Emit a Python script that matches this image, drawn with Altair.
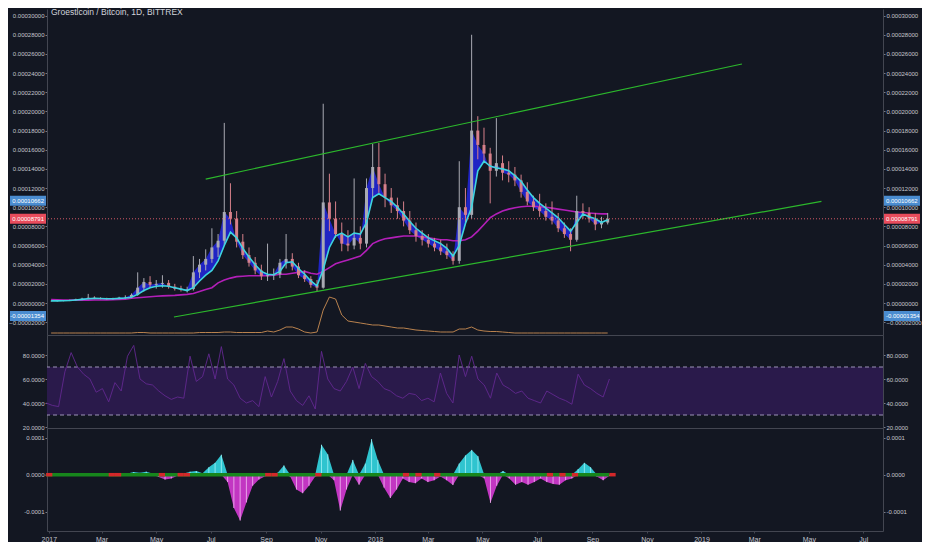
import pandas as pd
import altair as alt

# weekly samples (prices in units of 1e-5 BTC)
start = pd.Timestamp("2016-12-29")
weeks = pd.date_range(start, periods=91, freq="7D")

open_ = [0.20, 0.20, 0.22, 0.24, 0.30, 0.38, 0.45, 0.55, 0.50, 0.45,
         0.42, 0.45, 0.55, 0.60, 0.85, 1.60, 2.20, 1.90, 2.00, 2.10,
         1.70, 1.50, 1.40, 1.45, 3.20, 4.00, 4.60, 5.80, 6.50, 9.50,
         8.80, 6.40, 5.00, 4.20, 3.40, 2.80, 2.90, 3.00, 4.20, 4.60,
         3.80, 2.90, 2.50, 1.90, 1.60, 10.50, 8.80, 7.20, 6.20, 6.00,
         6.80, 6.20, 12.00, 14.20, 12.40, 11.00, 10.20, 9.60, 8.60, 7.60,
         7.00, 6.60, 6.20, 5.80, 5.40, 5.00, 4.40, 10.00, 9.20, 18.00,
         16.50, 15.60, 13.80, 14.60, 13.60, 13.40, 12.80, 11.60, 10.60, 10.00,
         9.60, 9.00, 8.60, 7.80, 7.20, 6.60, 9.60, 9.40, 8.80, 8.20,
         8.40]
close = [0.20, 0.22, 0.24, 0.30, 0.38, 0.45, 0.55, 0.50, 0.45, 0.42,
         0.45, 0.55, 0.60, 0.85, 1.60, 2.20, 1.90, 2.00, 2.10, 1.70,
         1.50, 1.40, 1.45, 3.20, 4.00, 4.60, 5.80, 6.50, 9.50, 8.80,
         6.40, 5.00, 4.20, 3.40, 2.80, 2.90, 3.00, 4.20, 4.60, 3.80,
         2.90, 2.50, 1.90, 1.60, 10.50, 8.80, 7.20, 6.20, 6.00, 6.80,
         6.20, 12.00, 14.20, 12.40, 11.00, 10.20, 9.60, 8.60, 7.60, 7.00,
         6.60, 6.20, 5.80, 5.40, 5.00, 4.40, 10.00, 9.20, 18.00, 16.50,
         15.60, 13.80, 14.60, 13.60, 13.40, 12.80, 11.60, 10.60, 10.00, 9.60,
         9.00, 8.60, 7.80, 7.20, 6.60, 9.60, 9.40, 8.80, 8.20, 8.40,
         8.79]
high = [0.25, 0.28, 0.30, 0.35, 0.45, 0.55, 0.95, 0.70, 0.60, 0.55,
        0.55, 0.65, 0.80, 1.00, 3.20, 2.60, 2.80, 2.40, 2.90, 2.40,
        2.00, 1.80, 1.70, 4.90, 4.60, 5.60, 7.80, 7.20, 18.80, 12.50,
        9.60, 7.20, 5.80, 4.80, 4.00, 6.20, 3.60, 4.60, 7.20, 5.20,
        4.20, 3.40, 2.80, 2.40, 20.80, 13.50, 10.60, 8.40, 7.60, 13.00,
        8.00, 13.00, 16.60, 16.70, 13.50, 12.00, 11.00, 10.60, 9.60, 8.40,
        7.60, 7.20, 6.80, 6.60, 6.20, 5.40, 14.80, 12.00, 28.00, 19.50,
        18.30, 16.20, 19.30, 15.40, 14.80, 14.20, 13.40, 12.60, 11.20, 11.40,
        10.40, 10.60, 9.40, 8.40, 7.80, 11.20, 10.40, 10.00, 9.40, 9.00,
        9.40]
low = [0.15, 0.16, 0.18, 0.20, 0.25, 0.30, 0.40, 0.40, 0.38, 0.35,
       0.35, 0.40, 0.45, 0.50, 0.75, 1.20, 1.60, 1.50, 1.60, 1.50,
       1.30, 1.20, 1.10, 1.30, 2.60, 3.40, 4.20, 4.80, 6.00, 8.20,
       5.80, 4.60, 3.80, 3.00, 2.40, 2.30, 2.40, 2.60, 3.60, 3.40,
       2.60, 2.20, 1.60, 1.25, 1.50, 7.50, 6.80, 5.40, 5.40, 5.60,
       5.60, 5.80, 11.00, 11.50, 10.00, 9.40, 8.80, 8.00, 7.20, 6.40,
       6.00, 5.80, 5.40, 5.00, 4.60, 4.00, 4.10, 8.40, 8.80, 15.00,
       14.60, 10.40, 13.20, 12.80, 12.60, 12.20, 11.00, 10.20, 9.60, 9.00,
       8.60, 8.20, 7.40, 6.80, 5.40, 6.40, 8.80, 8.40, 7.60, 7.80,
       8.20]
ema_fast = [0.22, 0.22, 0.23, 0.26, 0.32, 0.38, 0.45, 0.48, 0.47, 0.45,
            0.45, 0.48, 0.52, 0.60, 0.90, 1.30, 1.60, 1.75, 1.80, 1.75,
            1.60, 1.45, 1.30, 1.60, 2.30, 2.90, 3.40, 4.40, 6.00, 7.40,
            6.80, 5.70, 4.80, 4.00, 3.30, 3.00, 2.95, 3.30, 4.20, 4.30,
            3.60, 3.00, 2.30, 1.80, 3.50, 5.80, 7.00, 7.30, 6.90, 7.30,
            7.20, 8.40, 11.00, 11.40, 11.00, 10.60, 10.00, 9.30, 8.50, 7.80,
            7.30, 6.80, 6.50, 6.20, 5.70, 4.90, 6.00, 8.30, 10.00, 13.80,
            14.80, 14.30, 14.10, 14.00, 13.80, 13.30, 12.70, 11.80, 11.00, 10.40,
            9.90, 9.40, 8.90, 8.20, 7.50, 8.40, 9.30, 9.00, 8.80, 8.40,
            8.70]
ma_slow = [0.35, 0.33, 0.32, 0.31, 0.30, 0.30, 0.30, 0.31, 0.32, 0.33,
           0.35, 0.37, 0.40, 0.50, 0.55, 0.60, 0.65, 0.70, 0.74, 0.77,
           0.80, 0.85, 0.90, 1.00, 1.20, 1.40, 1.60, 2.10, 2.40, 2.60,
           2.75, 2.80, 2.85, 2.85, 2.85, 2.85, 2.90, 3.00, 3.00, 3.10,
           3.20, 3.30, 3.10, 3.00, 3.30, 3.70, 4.10, 4.30, 4.50, 4.70,
           4.90, 5.50, 6.20, 6.50, 6.70, 6.80, 6.90, 7.00, 7.00, 7.00,
           6.90, 6.80, 6.70, 6.60, 6.60, 6.50, 6.50, 6.60, 6.90, 7.50,
           8.20, 8.90, 9.30, 9.60, 9.80, 9.95, 10.05, 10.10, 10.10, 10.05,
           10.00, 9.90, 9.80, 9.70, 9.60, 9.50, 9.45, 9.40, 9.35, 9.30,
           9.30]
volume = [2, 2, 2, 2, 2, 2, 2, 2, 2, 2,
          2, 2, 2, 2, 2.5, 2.5, 2, 2, 2, 2,
          2, 2, 2, 2, 2.5, 2.5, 2.5, 2.5, 3, 3,
          2.5, 2.5, 2.5, 2.5, 2.5, 4, 3, 5, 8, 8,
          6, 3, 2, 3, 25, 38, 36, 20, 14, 13,
          12, 11, 10, 10, 9, 8, 7, 7, 6, 5,
          4.5, 4, 3.5, 3, 3, 3, 6, 6, 8, 5,
          4, 3.5, 3.5, 3, 2.5, 2, 2, 2, 2, 2,
          2, 2, 2, 2, 2, 2, 2, 2, 2, 2,
          2]
rsi = [40, 38, 37, 66, 82, 70, 64, 60, 49, 52,
       41, 57, 50, 79, 88, 60, 56, 55, 50, 46,
       43, 45, 44, 79, 58, 62, 81, 60, 87, 60,
       55, 44, 40, 42, 37, 62, 45, 58, 77, 50,
       42, 38, 46, 35, 83, 60, 52, 50, 58, 70,
       52, 73, 62, 58, 52, 50, 46, 44, 48, 47,
       42, 44, 41, 65, 48, 40, 80, 62, 79, 60,
       55, 44, 65, 55, 52, 48, 50, 44, 42, 40,
       50, 47, 44, 42, 39, 64, 55, 52, 48, 45,
       60]
# squeeze momentum in units of 1e-5
momentum = [0.1, 0.1, 0.1, 0.2, 0.3, 0.2, 0.3, 0.1, -0.1, 0.0,
            0.1, 0.1, 0.2, 0.3, 0.7, 0.5, 0.8, 0.3, -0.6, -1.3,
            -1.0, -0.3, 0.3, 0.8, 1.0, 0.4, 2.0, 3.2, 5.4, -2.0,
            -9.0, -12.4, -7.5, -3.0, -1.3, -0.4, 0.2, 0.5, 2.5, -0.5,
            -4.0, -5.0, -3.0, -0.5, 8.1, 5.5, -1.5, -9.7, -4.0, 4.0,
            -2.7, 3.0, 9.6, 4.0, -3.5, -6.3, -4.0, -1.0, -2.0, -2.3,
            -1.0, -2.0, -1.5, -0.5, -1.5, -2.8, 3.0, 5.2, 6.7, 5.0,
            -1.0, -7.6, -3.0, 1.0, -1.0, -2.7, -2.0, -2.7, -2.0, -1.0,
            -2.0, -2.5, -2.7, -1.5, -1.0, 1.5, 3.2, 2.0, -0.5, -1.5,
            -0.3]
squeeze_weeks = [0, 10, 11, 18, 21, 22, 35, 36, 43, 57, 59, 62, 80, 82, 84, 90]

channel_line = ["upper", "upper", "lower", "lower"]
channel_date = ["2017-06-22", "2019-02-19", "2017-05-17", "2019-05-20"]
channel_price = [12.94, 24.95, -1.46, 10.60]

last_price = 8.791
badge_price = [10.662, 8.791, -1.354]
badge_text = ["0.00010662", "0.00008791", "-0.00001354"]
badge_kind = ["blue", "red", "blue"]

rsi_levels = [30, 70]
month_ticks = pd.date_range("2017-01-01", "2019-07-01", freq="2MS")

df = pd.DataFrame({"date": weeks, "open": open_, "high": high, "low": low,
                   "close": close, "ema": ema_fast, "ma": ma_slow,
                   "vol": volume, "rsi": rsi, "mom": momentum})
df["dir"] = ["up" if c >= o else "down" for o, c in zip(open_, close)]
df["pos"] = df["mom"].clip(lower=0)
df["neg"] = df["mom"].clip(upper=0)
sq = df.iloc[squeeze_weeks].copy()
sq["date_end"] = sq["date"] + pd.Timedelta(days=7)
chan = pd.DataFrame({"line": channel_line, "date": pd.to_datetime(channel_date),
                     "price": channel_price})
badges = pd.DataFrame({"price": badge_price, "text": badge_text, "kind": badge_kind})

BG = "#131722"
LINE = "#434651"
TXT = "#c3c6ce"
FONT = "Liberation Sans"
W = 836
BADGE = {"blue": "#4a8cd0", "red": "#e84c5c"}

x_scale = alt.Scale(domain=[alt.DateTime(year=2016, month=12, date=30),
                            alt.DateTime(year=2019, month=7, date=23)])
no_x = alt.Axis(labels=False, ticks=False, grid=False, title=None,
                domainColor=LINE)
date_axis = alt.Axis(values=[alt.DateTime(year=d.year, month=d.month, date=1) for d in month_ticks],
                     labelExpr="month(datum.value) == 0 ? timeFormat(datum.value, '%Y') : timeFormat(datum.value, '%b')",
                     labelFont=FONT, labelFontSize=7, labelColor=TXT, tickSize=2,
                     tickColor=LINE, domainColor=LINE, grid=False, title=None,
                     labelPadding=2)


def xenc(axis):
    return alt.X("date:T", scale=x_scale, axis=axis)


def yaxis(orient, values, expr):
    return alt.Axis(orient=orient, values=values, labelExpr=expr, labelFont=FONT,
                    labelFontSize=6, labelColor=TXT, tickSize=2, tickColor="#787b86",
                    domainColor=LINE, grid=False, title=None, labelPadding=1,
                    labelOverlap=False)


# ---------- price panel ----------
price_scale = alt.Scale(domain=[-3.34, 30.69], nice=False, zero=False)
price_ticks = list(range(-2, 31, 2))
price_expr = "format(datum.value * 1e-5, '.8f')"
pl = yaxis("left", price_ticks, price_expr)
pr = yaxis("right", price_ticks, price_expr)


def py(field, axis=pl):
    return alt.Y(field, scale=price_scale, axis=axis)


candle_color = alt.Color("dir:N", scale=alt.Scale(domain=["up", "down"],
                                                   range=["#a9aab3", "#d6808a"]),
                         legend=None)
base = alt.Chart(df)
blue_fill = base.mark_area(color="#2226d6", opacity=0.9).encode(
    x=xenc(no_x), y=py("close:Q"), y2="ema:Q")
slow = base.mark_line(color="#b21fb8", strokeWidth=1.6).encode(x=xenc(no_x), y=py("ma:Q"))
wicks = base.mark_rule(strokeWidth=1).encode(x=xenc(no_x), y=py("low:Q"), y2="high:Q",
                                             color=candle_color)
bodies = base.mark_bar(size=3).encode(x=xenc(no_x), y=py("open:Q"), y2="close:Q",
                                      color=candle_color)
fast = base.mark_line(color="#3fd5df", strokeWidth=1.6).encode(x=xenc(no_x), y=py("ema:Q"))
channel = alt.Chart(chan).mark_line(color="#2cb82c", strokeWidth=1.2).encode(
    x=xenc(no_x), y=py("price:Q"), detail="line:N")
last_line = alt.Chart(pd.DataFrame({"price": [last_price]})).mark_rule(
    color="#d45a68", strokeDash=[1, 2], strokeWidth=1).encode(y=py("price:Q"))
title = alt.Chart(pd.DataFrame({"t": ["Groestlcoin / Bitcoin, 1D, BITTREX"]})).mark_text(
    align="left", baseline="middle", font=FONT, fontSize=8.5, color="#d1d4dc").encode(
    x=alt.value(4), y=alt.value(3), text="t:N")


def badge_layers(axis, x0, x1, tx, align):
    layers = []
    for kind, col in BADGE.items():
        layers.append(alt.Chart(badges).transform_filter(
            alt.datum.kind == kind).mark_rect(height=10, color=col).encode(
            x=alt.value(x0), x2=alt.value(x1), y=py("price:Q", axis)))
    layers.append(alt.Chart(badges).mark_text(
        align=align, baseline="middle", font=FONT, fontSize=6, color="white").encode(
        x=alt.value(tx), y=py("price:Q", axis), text="text:N"))
    return layers


price_group = alt.layer(blue_fill, slow, wicks, bodies, fast, channel, last_line,
                        *badge_layers(pl, -37, -1, -3, "right"), title)
right_group = alt.layer(*badge_layers(pr, W + 1, W + 37, W + 3, "left"))

vol_line = base.mark_line(color="#b9824e", strokeWidth=1).encode(
    x=xenc(no_x), y=alt.Y("vol:Q", scale=alt.Scale(domain=[0, 326]), axis=None))

price_panel = alt.layer(price_group, right_group, vol_line).resolve_scale(
    y="independent").properties(width=W, height=326)

# ---------- RSI panel ----------
rsi_scale = alt.Scale(domain=[19.17, 96.67], nice=False, zero=False)
rsi_ticks = [20, 40, 60, 80]
rsi_expr = "format(datum.value, '.4f')"
rl = yaxis("left", rsi_ticks, rsi_expr)
rr = yaxis("right", rsi_ticks, rsi_expr)
lv = pd.DataFrame({"lvl": rsi_levels})
band = alt.Chart(pd.DataFrame({"lo": [rsi_levels[0]], "hi": [rsi_levels[1]]})).mark_rect(
    color="#2a1a4b").encode(y=alt.Y("lo:Q", scale=rsi_scale, axis=rl), y2="hi:Q")
dashes = alt.Chart(lv).mark_rule(color="#9d94b8", strokeDash=[4, 3], strokeWidth=1).encode(
    y=alt.Y("lvl:Q", scale=rsi_scale, axis=rl))
rsi_line = base.mark_line(color="#62288f", strokeWidth=1, opacity=0.9).encode(
    x=xenc(no_x), y=alt.Y("rsi:Q", scale=rsi_scale, axis=rl))
rsi_right = alt.Chart(lv).mark_rule(opacity=0).encode(
    y=alt.Y("lvl:Q", scale=rsi_scale, axis=rr))
rsi_panel = alt.layer(alt.layer(band, dashes, rsi_line), rsi_right).resolve_scale(
    y="independent").properties(width=W, height=93)

# ---------- momentum panel ----------
mom_scale = alt.Scale(domain=[-15.22, 12.62], nice=False, zero=False)
mom_ticks = [-10, 0, 10]
mom_expr = ("datum.value < 0 ? '-' + format(-datum.value * 1e-5, '.4f') "
            ": format(datum.value * 1e-5, '.4f')")
ml = yaxis("left", mom_ticks, mom_expr)
mr = yaxis("right", mom_ticks, mom_expr)


def my(field, axis=ml):
    return alt.Y(field, scale=mom_scale, axis=axis)


pos_area = base.mark_area(color="#2fc4cf").encode(x=xenc(date_axis), y=my("pos:Q"), y2=alt.datum(0))
neg_area = base.mark_area(color="#c236c2").encode(x=xenc(date_axis), y=my("neg:Q"), y2=alt.datum(0))
pos_ticks = base.mark_rule(color="#8be8ee", strokeWidth=1).encode(
    x=xenc(date_axis), y=my("pos:Q"), y2=alt.datum(0))
neg_ticks = base.mark_rule(color="#e7a2e7", strokeWidth=1).encode(
    x=xenc(date_axis), y=my("neg:Q"), y2=alt.datum(0))
zero_line = base.mark_line(color="#17861c", strokeWidth=3.5).encode(
    x=xenc(date_axis), y=alt.datum(0, scale=mom_scale, axis=ml))
squeeze = alt.Chart(sq).mark_rule(color="#d4282a", strokeWidth=3.5).encode(
    x=xenc(date_axis), x2="date_end:T", y=alt.datum(0, scale=mom_scale, axis=ml))
mom_right = alt.Chart(pd.DataFrame({"v": mom_ticks})).mark_rule(opacity=0).encode(
    y=my("v:Q", mr))
mom_panel = alt.layer(
    alt.layer(pos_area, neg_area, pos_ticks, neg_ticks, zero_line, squeeze),
    mom_right).resolve_scale(y="independent").properties(width=W, height=103)

chart = alt.vconcat(price_panel, rsi_panel, mom_panel, spacing=0, bounds="flush").properties(
    background=BG, padding={"left": 0, "top": 0, "right": 0, "bottom": 0}
).configure_view(stroke=None).configure_axis(labelFont=FONT)

chart.save("out.html", embed_options={"renderer": "svg", "actions": False})
